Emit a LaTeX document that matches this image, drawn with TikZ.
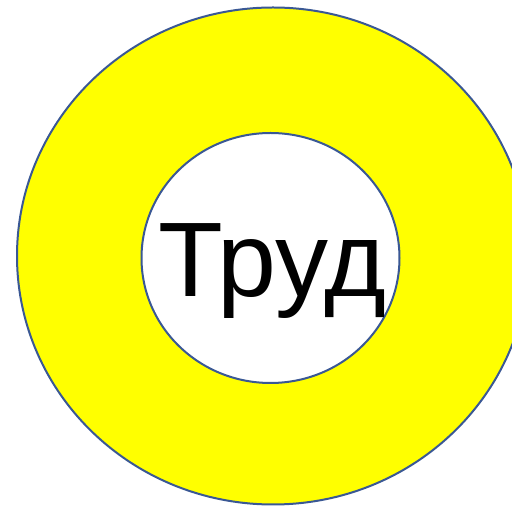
\documentclass[tikz,border=0pt]{standalone}
\usepackage{fontspec}
\setmainfont{Liberation Sans}
\definecolor{ringline}{HTML}{3A5894}
\definecolor{ringfill}{HTML}{FFFF00}
\tikzset{ring/.style={draw=ringline, line width=2pt}}
\begin{document}
\begin{tikzpicture}[x=1pt,y=1pt]
\useasboundingbox (0,0) rectangle (512,506);
\clip (0,0) rectangle (512,506);
\path[ring, fill=ringfill] (273,250) ellipse [x radius=256, y radius=248.5];
\path[ring, fill=white] (270.5,248) ellipse [x radius=129, y radius=125];
\node[anchor=base, inner sep=0pt, font=\fontsize{106}{120}\selectfont] (t) at (272.5,209) {Труд};
\end{tikzpicture}
\end{document}
